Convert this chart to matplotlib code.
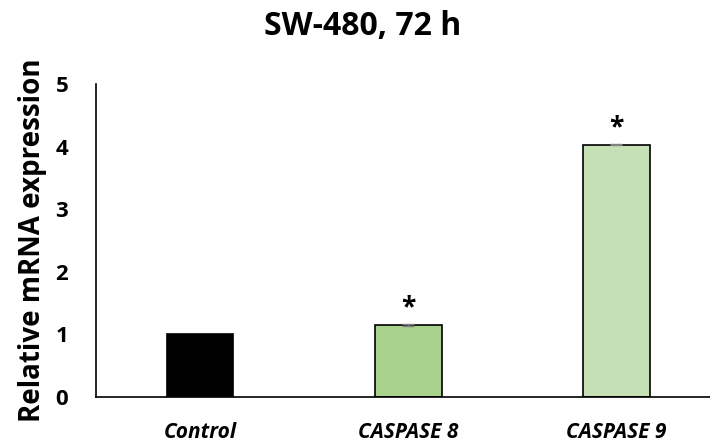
import matplotlib.pyplot as plt

# data
groups = ['Control', 'CASPASE 8', 'CASPASE 9']
expression = [1.0, 1.15, 4.03]
errors = [0.0, 0.01, 0.01]
significant = [False, True, True]
bar_colors = ['#000000', '#a9d18e', '#c5e0b4']

plt.rcParams['font.family'] = ['Open Sans', 'DejaVu Sans']

fig = plt.figure(figsize=(7.1, 4.44), dpi=100)
ax = fig.add_axes([96 / 710, 1 - 397 / 444, 1 - 96 / 710, (397 - 84) / 444])

x = list(range(len(groups)))
ax.bar(x, expression, width=0.32, color=bar_colors, edgecolor='black', linewidth=1.2)
# small error caps only where an error was given
ex = [i for i, e in zip(x, errors) if e > 0]
ey = [v for v, e in zip(expression, errors) if e > 0]
ee = [e for e in errors if e > 0]
ax.errorbar(ex, ey, yerr=ee, fmt='none', ecolor='#808080', capsize=4, elinewidth=1)

for i, (v, e, s) in enumerate(zip(expression, errors, significant)):
    if s:
        ax.text(i, v + e + 0.05, '*', ha='center', va='bottom', fontsize=19, fontweight='bold')

ax.set_xlim(-0.5, 2.45)
ax.set_ylim(0, 5)
ax.set_yticks(range(6))
ax.set_xticks(x)
ax.set_xticklabels(groups, fontsize=15, fontweight='bold', fontstyle='italic')
ax.tick_params(axis='both', length=0)
ax.tick_params(axis='x', pad=18, labelsize=15)
ax.tick_params(axis='y', pad=20, labelsize=16)
for lab in ax.get_yticklabels():
    lab.set_fontweight('bold')

ax.spines['top'].set_visible(False)
ax.spines['right'].set_visible(False)
ax.spines['left'].set_linewidth(1.2)
ax.spines['bottom'].set_linewidth(1.2)

ax.set_ylabel('Relative mRNA expression', fontsize=20, fontweight='bold', labelpad=6)
fig.text(0.511, 0.941, 'SW-480, 72 h', ha='center', va='center', fontsize=23, fontweight='bold')

fig.savefig('out.png', dpi=100)
